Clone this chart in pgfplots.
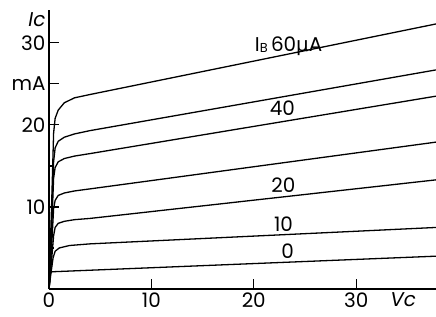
\documentclass[border=0pt]{standalone}
\usepackage{fontspec}
\setmainfont{Poppins}
\newfontfamily\dv{DejaVu Sans}
\usepackage{pgfplots}
\pgfplotsset{compat=1.18}
\begin{document}
\begin{tikzpicture}
\begin{axis}[
  scale only axis, width=387bp, height=279bp,
  xmin=0, xmax=37.8, ymin=0, ymax=34,
  axis lines*=left,
  axis line style={line width=1.4bp},
  tick align=inside,
  major tick length=10bp, minor tick length=5bp,
  every tick/.style={line width=1.2bp, black},
  xtick={0,10,20,30},
  ytick={10,20,25,30}, yticklabels={10,20,mA,30},
  minor ytick={5,15},
  /pgf/number format/assume math mode=true,
  tick label style={font=\fontsize{20}{22}\selectfont},
  clip=false,
]
% x tick marks
\addplot[ycomb, black, line width=1.2bp, no markers] coordinates {(10,1.2) (20,1.2) (30,1.2)};
% I_B = 60 uA
\addplot[black, line width=1.3bp] coordinates {(0,0) (0.25,10) (0.45,19) (0.6,20.8) (0.9,21.8) (1.5,22.7) (2.5,23.3) (4,23.7) (37.8,32.3)};
% 50 uA
\addplot[black, line width=1.3bp] coordinates {(0,0) (0.25,8) (0.45,15.5) (0.6,17.2) (0.9,18) (1.5,18.5) (2.5,18.9) (4,19.3) (37.8,26.7)};
% 40 uA
\addplot[black, line width=1.3bp] coordinates {(0,0) (0.25,7) (0.45,13.5) (0.6,14.8) (0.9,15.5) (1.5,15.9) (2.5,16.2) (4,16.5) (37.8,23.5)};
% 30 uA
\addplot[black, line width=1.3bp] coordinates {(0,0) (0.25,5) (0.45,9.8) (0.6,10.8) (0.9,11.4) (1.5,11.7) (2.5,11.95) (4,12.2) (37.8,17.9)};
% 20 uA
\addplot[black, line width=1.3bp] coordinates {(0,0) (0.25,3.5) (0.45,6.5) (0.6,7.5) (0.9,8.0) (1.5,8.25) (2.5,8.45) (4,8.6) (37.8,13.3)};
% 10 uA
\addplot[black, line width=1.3bp] coordinates {(0,0) (0.2,2) (0.4,3.8) (0.6,4.6) (1,5.0) (2,5.3) (4,5.5) (37.8,7.5)};
% 0 uA
\addplot[black, line width=1.3bp] coordinates {(0,0) (0.15,2.0) (0.3,2.1) (37.8,4.0)};
\node[font=\fontsize{20}{22}\selectfont] at (axis cs:23.4,29.6) {I\raisebox{-1bp}{\fontsize{13}{13}\selectfont B}\,60{\dv µ}A};
\node[font=\fontsize{20}{22}\selectfont] at (axis cs:22.8,22.0) {40};
\node[font=\fontsize{20}{22}\selectfont] at (axis cs:22.9,12.7) {20};
\node[font=\fontsize{20}{22}\selectfont] at (axis cs:22.9,7.9) {10};
\node[font=\fontsize{20}{22}\selectfont] at (axis cs:23.3,4.6) {0};
\node[font=\fontsize{20}{22}\selectfont, anchor=north, inner sep=0.333em] at (axis cs:34.6,0) {\textit{Vc}};
\node[font=\fontsize{20}{22}\selectfont, anchor=east, inner sep=0.333em] at (axis cs:0,32.8) {\textit{Ic}};
\coordinate (ll) at (rel axis cs:0,0);
\coordinate (ur) at (rel axis cs:1,1);
\end{axis}
\pgfresetboundingbox
\path ([xshift=-49bp,yshift=-28bp]ll) rectangle ([yshift=10bp]ur);
\end{tikzpicture}
\end{document}
